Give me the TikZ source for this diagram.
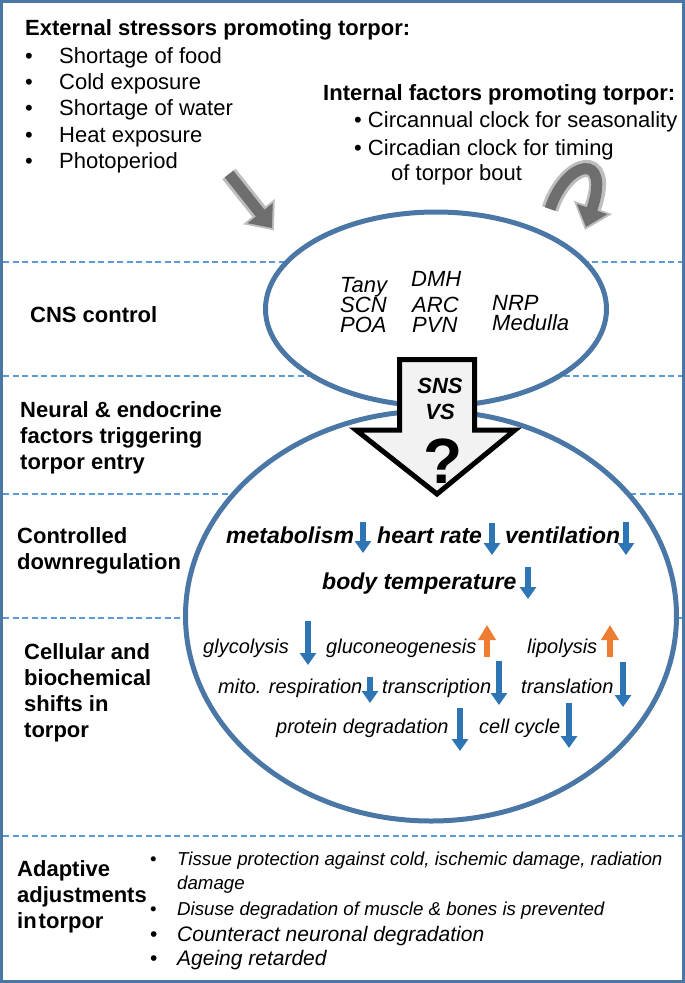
\documentclass[tikz,border=0pt]{standalone}
\usepackage{fontspec}
\setmainfont{Liberation Sans}
\usetikzlibrary{arrows.meta,positioning,shapes.geometric,calc}
\definecolor{frameblue}{HTML}{4A77A6}
\definecolor{dashblue}{HTML}{5B9BD5}
\definecolor{downblue}{HTML}{2E75B6}
\definecolor{uporange}{HTML}{ED7D31}
\definecolor{gbody}{HTML}{6E6E6E}
\definecolor{gedge}{HTML}{BEBEBE}
\definecolor{arrowfill}{HTML}{F2F2F2}
\tikzset{
  rowlabel/.style={font=\fontsize{22}{26}\selectfont\bfseries, align=left, anchor=north west, inner sep=0pt},
  factorhead/.style={font=\fontsize{22}{26}\selectfont\bfseries, anchor=base west, inner sep=0pt},
  stressor/.style={font=\fontsize{22}{26}\selectfont, anchor=base west, inner sep=0pt},
  nucleus/.style={font=\fontsize{22}{20}\selectfont\itshape, align=left, anchor=north west, inner sep=0pt},
  physio/.style={font=\fontsize{23}{23}\selectfont\bfseries\itshape, anchor=base west, inner sep=0pt},
  cellfx/.style={font=\fontsize{20}{20}\selectfont\itshape, anchor=base west, inner sep=0pt},
  adapt/.style={font=\fontsize{18.7}{20}\selectfont, anchor=base west, inner sep=0pt},
  adaptbig/.style={font=\fontsize{21}{22}\selectfont, anchor=base west, inner sep=0pt},
  fall/.style={downblue, line width=5.5pt, -{Triangle[width=16pt,length=12pt]}},
  rise/.style={uporange, line width=6pt, -{Triangle[width=17pt,length=15pt]}},
  divider/.style={dashblue, line width=2pt, dash pattern=on 6pt off 3.5pt},
  region/.style={draw=frameblue, line width=5pt, fill=white, ellipse, inner sep=0pt},
  grayrim/.style={gedge, line width=17pt, -{Triangle[width=39pt,length=24pt]}},
  graycore/.style={gbody, line width=11pt, -{Triangle[width=31pt,length=19pt]}},
  trigger/.style={draw=black, line width=5pt, fill=arrowfill, line join=miter},
}
\begin{document}
\begin{tikzpicture}[x=1pt,y=-1pt]
\useasboundingbox (0,0) rectangle (685,983);

\draw[divider] (3,262) -- (682,262);
\draw[divider] (3,376) -- (682,376);
\draw[divider] (3,494) -- (682,494);
\draw[divider] (3,618) -- (682,618);
\draw[divider] (3,836) -- (682,836);

\node[region, minimum width=491pt, minimum height=410pt] (body) at (431,616) {};
\node[region, minimum width=341pt, minimum height=194pt] (cns) at (436,309) {};

\draw[trigger] (399.5,359.5) -- (474.5,359.5) -- (474.5,430) -- (515,430) -- (437,494) -- (356,430) -- (399.5,430) -- cycle;
\node[physio, anchor=base, font=\fontsize{22}{22}\selectfont\bfseries\itshape] (sns) at (440,393) {SNS};
\node[physio, anchor=base, font=\fontsize{22}{22}\selectfont\bfseries\itshape] (vs) at (440,419) {VS};
\node[anchor=base, inner sep=0pt, font=\fontsize{64}{64}\selectfont\bfseries] (unknown) at (443,483) {?};

\node[factorhead] (ext) at (25,35) {External stressors promoting torpor:};
\node[stressor] (food) at (25,63) {\makebox[34pt][l]{\textbullet}Shortage of food};
\node[stressor] (cold) at (25,89) {\makebox[34pt][l]{\textbullet}Cold exposure};
\node[stressor] (water) at (25,115) {\makebox[34pt][l]{\textbullet}Shortage of water};
\node[stressor] (heat) at (25,142) {\makebox[34pt][l]{\textbullet}Heat exposure};
\node[stressor] (photo) at (25,168) {\makebox[34pt][l]{\textbullet}Photoperiod};

\node[factorhead] (int) at (323,100) {Internal factors promoting torpor:};
\node[stressor] (annual) at (354,127) {\textbullet\ Circannual clock for seasonality};
\node[stressor] (daily) at (354,155) {\textbullet\ Circadian clock for timing};
\node[stressor] (bout) at (391,180) {of torpor bout};

\coordinate (extfrom) at (229,174);
\coordinate (extto) at (272,228);
\draw[grayrim] (extfrom) -- ($(extto)!-3pt!(extfrom)$);
\draw[graycore] (extfrom) -- (extto);

\coordinate (intfrom) at (550,209);
\coordinate (intto) at (586,227);
\coordinate (intrim) at (585,230);
\draw[grayrim] (intfrom) .. controls (566,160) and (613,150) .. (intrim);
\draw[graycore] (intfrom) .. controls (566,160) and (612,150) .. (intto);

\node[rowlabel, anchor=base west] (cnsrow) at (30,322) {CNS control};
\node[rowlabel] (neural) at (20,401) {Neural \& endocrine\\factors triggering\\torpor entry};
\node[rowlabel] (control) at (17,527) {Controlled\\downregulation};
\node[rowlabel] (cellrow) at (24,643) {Cellular and\\biochemical\\shifts in\\torpor};
\node[rowlabel] (adaptrow) at (17,860) {Adaptive\\adjustments\\in\hspace{2pt}torpor};

\node[nucleus] (hypo) at (340,277) {Tany\\SCN\\POA};
\node[nucleus] (dmh) at (411,271) {DMH};
\node[nucleus] (arc) at (412,296.5) {ARC\\PVN};
\node[nucleus] (brainstem) at (492,295.5) {NRP\\Medulla};

\node[physio] (metab) at (226,543) {metabolism};
\node[physio] (heart) at (377,543) {heart rate};
\node[physio] (vent) at (505,543) {ventilation};
\node[physio] (temp) at (322,589) {body temperature};
\draw[fall] (363,522) -- (363,553);
\draw[fall] (492,523) -- (492,555);
\draw[fall] (626,522) -- (626,555);
\draw[fall] (528,567) -- (528,599);

\node[cellfx] (glyco) at (203,653) {glycolysis};
\node[cellfx] (gluco) at (326,653) {gluconeogenesis};
\node[cellfx] (lipo) at (527,653) {lipolysis};
\node[cellfx] (mito) at (218,693) {mito. respiration};
\node[cellfx] (transc) at (382,693) {transcription};
\node[cellfx] (transl) at (521,693) {translation};
\node[cellfx] (protein) at (276,733) {protein degradation};
\node[cellfx] (cycle) at (479,733) {cell cycle};
\draw[fall] (308,621) -- (308,665);
\draw[rise] (487,657) -- (487,625);
\draw[rise] (610,657) -- (610,625);
\draw[fall] (370,677) -- (370,703);
\draw[fall] (499,661) -- (499,705);
\draw[fall] (623,662) -- (623,707);
\draw[fall] (460,708) -- (460,751);
\draw[fall] (569,703) -- (569,748);

\node[adapt] (tissue) at (150,865) {\makebox[27pt][l]{\textbullet}\itshape Tissue protection against cold, ischemic damage, radiation};
\node[adapt] (damage) at (177,889) {\itshape damage};
\node[adapt] (disuse) at (150,915) {\makebox[27pt][l]{\textbullet}\itshape Disuse degradation of muscle \& bones is prevented};
\node[adaptbig] (neuron) at (150,941) {\makebox[27pt][l]{\textbullet}\itshape Counteract neuronal degradation};
\node[adaptbig] (ageing) at (150,965) {\makebox[27pt][l]{\textbullet}\itshape Ageing retarded};

\draw[frameblue, line width=3pt] (1.5,1.5) rectangle (683.5,981.5);
\end{tikzpicture}
\end{document}
